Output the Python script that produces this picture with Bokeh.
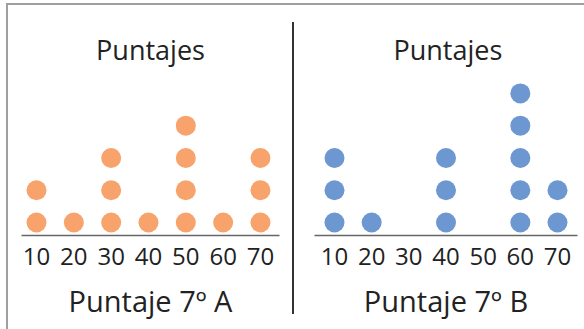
from bokeh.plotting import figure
from bokeh.models import Range1d, FixedTicker, Div, ColumnDataSource
from bokeh.layouts import row, column
from bokeh.embed import file_html
from bokeh.resources import INLINE

# ---- data ----
scores = [10, 20, 30, 40, 50, 60, 70]
counts_a = [2, 1, 3, 1, 4, 1, 3]
counts_b = [3, 1, 0, 3, 0, 5, 2]
title_text = "Puntajes"
label_a = "Puntaje 7º A"
label_b = "Puntaje 7º B"
color_a = "#F7A36B"
color_b = "#6D97D0"

FONT = "Open Sans"
FIG_H = 324


def expand(counts):
    xs, ys = [], []
    for s, c in zip(scores, counts):
        for k in range(1, c + 1):
            xs.append(s)
            ys.append(k)
    return xs, ys


def make_fig(counts, color, label, width, xr, bl, br, align="center", title_offset=0):
    p = figure(width=width, height=FIG_H, output_backend="svg", toolbar_location=None,
               x_range=Range1d(*xr), y_range=Range1d(0.597, 5.40),
               min_border_left=bl, min_border_right=br,
               min_border_top=75, min_border_bottom=94,
               y_axis_location=None)
    xs, ys = expand(counts)
    src = ColumnDataSource(dict(x=xs, y=ys))
    p.scatter("x", "y", source=src, size=20, color=color, line_color=None)
    p.title.text = title_text
    p.title.align = align
    p.title.offset = title_offset
    p.title.text_font = FONT
    p.title.text_font_size = "27px"
    p.title.text_font_style = "normal"
    p.title.text_color = "#222222"
    p.title.standoff = 25
    ax = p.xaxis[0]
    ax.ticker = FixedTicker(ticks=scores)
    ax.axis_line_color = "#666666"
    ax.axis_line_width = 1.5
    ax.major_tick_line_color = None
    ax.minor_tick_line_color = None
    ax.major_tick_out = 0
    ax.major_tick_in = 0
    ax.major_label_standoff = 12
    ax.major_label_text_font = FONT
    ax.major_label_text_font_size = "24px"
    ax.major_label_text_color = "#222222"
    ax.axis_label = label
    ax.axis_label_text_font = FONT
    ax.axis_label_text_font_size = "29px"
    ax.axis_label_text_font_style = "normal"
    ax.axis_label_text_color = "#222222"
    ax.axis_label_standoff = 13
    p.xgrid.visible = False
    p.ygrid.visible = False
    p.outline_line_color = None
    p.background_fill_color = "white"
    p.border_fill_color = "white"
    return p


left = make_fig(counts_a, color_a, label_a, 284, (5.98, 75.1), 13, 13)
right = make_fig(counts_b, color_b, label_b, 290, (4.62, 75.38), 20, 7,
                 align="left", title_offset=79)

top_border = Div(text="", width=578, height=2, margin=(3, 0, 0, 6),
                 styles={"background-color": "#a0a0a0"})
left_border = Div(text="", width=2, height=FIG_H, margin=(0, 0, 0, 6),
                  styles={"background-color": "#a0a0a0"})
divider = Div(text="", width=2, height=292, margin=(17, 0, 0, 0),
              styles={"background-color": "#333333"})

layout = column(top_border, row(left_border, left, divider, right))

open("out.html", "w").write(file_html(layout, INLINE))
